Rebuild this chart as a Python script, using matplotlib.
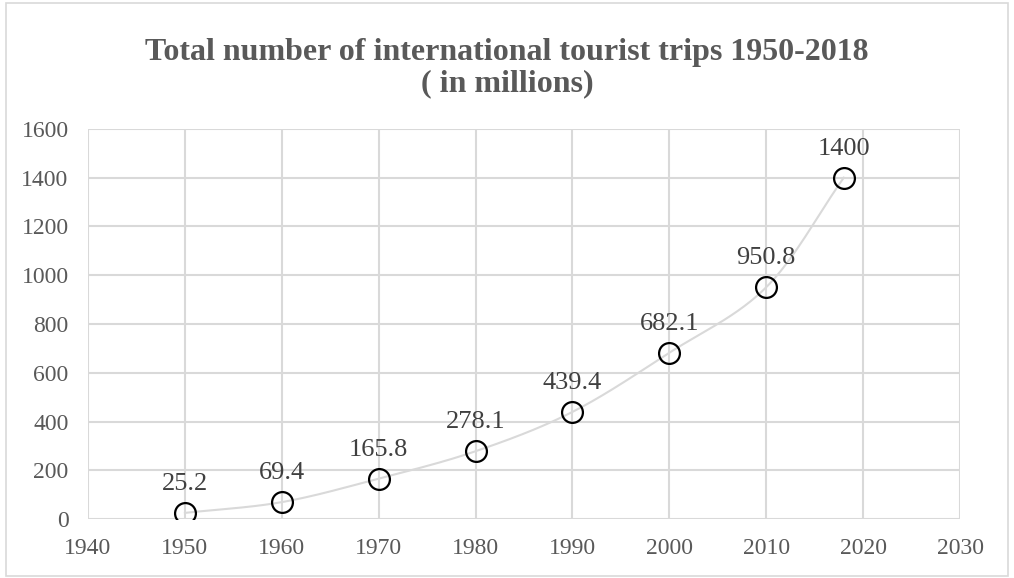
import numpy as np
import matplotlib.pyplot as plt
from matplotlib.patches import Rectangle

years = [1950, 1960, 1970, 1980, 1990, 2000, 2010, 2018]
trips = [25.2, 69.4, 165.8, 278.1, 439.4, 682.1, 950.8, 1400]
labels = ['25.2', '69.4', '165.8', '278.1', '439.4', '682.1', '950.8', '1400']

plt.rcParams['font.family'] = ['Liberation Serif', 'DejaVu Serif']


def smooth_curve(x, y, n=30):
    # Catmull-Rom through the points, like a spreadsheet "smoothed line"
    x = np.asarray(x, float)
    y = np.asarray(y, float)
    px = np.concatenate([[2 * x[0] - x[1]], x, [2 * x[-1] - x[-2]]])
    py = np.concatenate([[2 * y[0] - y[1]], y, [2 * y[-1] - y[-2]]])
    t = np.linspace(0, 1, n)
    xs, ys = [], []
    for i in range(1, len(px) - 2):
        for p, out in ((px, xs), (py, ys)):
            p0, p1, p2, p3 = p[i - 1], p[i], p[i + 1], p[i + 2]
            out.extend(0.5 * (2 * p1 + (-p0 + p2) * t
                              + (2 * p0 - 5 * p1 + 4 * p2 - p3) * t ** 2
                              + (-p0 + 3 * p1 - 3 * p2 + p3) * t ** 3))
    return np.array(xs), np.array(ys)


fig = plt.figure(figsize=(10.14, 5.78), dpi=100)
fig.patches.append(Rectangle((0.006, 0.004), 0.988, 0.99, transform=fig.transFigure,
                             fill=False, edgecolor='#d9d9d9', linewidth=1.2))
ax = fig.add_axes([0.0868, 0.102, 0.86, 0.675])

sx, sy = smooth_curve(years, trips)
ax.plot(sx, sy, color='#d9d9d9', linewidth=1.5, zorder=2)
ax.plot(years, trips, linestyle='none', marker='o', markersize=15,
        markerfacecolor='none', markeredgecolor='black', markeredgewidth=1.6, zorder=3)

for x, y, lab in zip(years, trips, labels):
    ax.annotate(lab, (x, y), xytext=(0, 13), textcoords='offset points',
                ha='center', va='bottom', fontsize=19, color='#404040')

ax.set_xlim(1940, 2030)
ax.set_ylim(0, 1600)
ax.set_xticks(range(1940, 2031, 10))
ax.set_yticks(range(0, 1601, 200))
ax.grid(True, color='#d9d9d9', linewidth=1.5)
ax.set_axisbelow(True)
for s in ax.spines.values():
    s.set_visible(False)
ax.tick_params(length=0, labelsize=17, labelcolor='#595959')
ax.tick_params(axis='x', pad=14)
ax.tick_params(axis='y', pad=14)

fig.text(0.5, 0.91, 'Total number of international tourist trips 1950-2018',
         ha='center', va='center', fontsize=23, fontweight='bold', color='#595959')
fig.text(0.5, 0.855, '( in millions)', ha='center', va='center',
         fontsize=23, fontweight='bold', color='#595959')

fig.savefig('out.png', dpi=100)
